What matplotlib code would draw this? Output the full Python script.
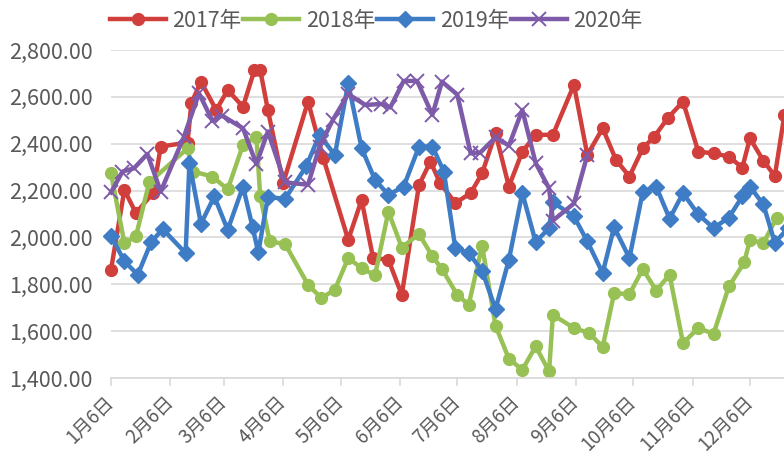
import matplotlib
matplotlib.use('Agg')
import matplotlib.pyplot as plt
from matplotlib.ticker import FuncFormatter

plt.rcParams['font.family'] = ['Noto Sans CJK SC', 'DejaVu Sans']

# day of year (0 = Jan 1) for each observation, and prices
days_2017 = [5, 12, 18, 27, 31, 45, 47, 52, 60, 66, 74, 80, 83, 87, 95, 108, 116, 129, 136, 142,
             150, 157, 166, 172, 177, 185, 193, 199, 206, 213, 220, 227, 236, 247, 254, 262, 269, 276,
             283, 289, 296, 304, 312, 320, 328, 335, 339, 346, 352, 357]
vals_2017 = [1862, 2203, 2104, 2190, 2388, 2405, 2573, 2665, 2544, 2629, 2558, 2715, 2715, 2544, 2232,
             2580, 2338, 1990, 2160, 1912, 1905, 1755, 2224, 2324, 2232, 2147, 2189, 2274, 2445, 2217,
             2366, 2438, 2438, 2651, 2352, 2466, 2331, 2260, 2381, 2430, 2509, 2580, 2366, 2359, 2345,
             2298, 2423, 2328, 2262, 2523]

days_2018 = [5, 12, 18, 25, 45, 48, 58, 66, 74, 81, 83, 88, 96, 108, 115, 122, 129, 136, 143, 150,
             157, 166, 173, 178, 186, 192, 199, 206, 213, 220, 227, 234, 236, 247, 255, 262, 268, 276,
             283, 290, 297, 304, 312, 320, 328, 336, 339, 346, 353]
vals_2018 = [2274, 1976, 2004, 2235, 2380, 2281, 2260, 2205, 2395, 2430, 2175, 1983, 1972, 1798, 1741,
             1777, 1912, 1869, 1838, 2110, 1957, 2015, 1919, 1865, 1755, 1713, 1965, 1623, 1482, 1435,
             1535, 1428, 1670, 1613, 1592, 1532, 1762, 1758, 1865, 1773, 1841, 1549, 1613, 1589, 1791,
             1893, 1990, 1975, 2085]

days_2019 = [5, 12, 19, 26, 32, 44, 46, 52, 59, 66, 74, 79, 82, 87, 96, 107, 114, 122, 129, 136,
             143, 150, 158, 166, 173, 179, 185, 192, 199, 206, 213, 220, 227, 234, 236, 247, 254, 262,
             268, 276, 283, 290, 297, 304, 312, 320, 328, 335, 339, 346, 352, 359]
vals_2019 = [2008, 1898, 1841, 1980, 2036, 1933, 2317, 2058, 2175, 2032, 2217, 2044, 1936, 2172, 2165,
             2303, 2438, 2352, 2658, 2381, 2246, 2182, 2217, 2388, 2388, 2281, 1954, 1933, 1858, 1694,
             1905, 2190, 1980, 2040, 2150, 2090, 1983, 1848, 2044, 1912, 2196, 2217, 2080, 2189, 2098,
             2040, 2085, 2175, 2217, 2141, 1978, 2040]

days_2020 = [5, 11, 17, 24, 31, 43, 51, 58, 63, 74, 81, 87, 96, 108, 114, 121, 129, 138, 146, 151,
             158, 165, 173, 178, 186, 193, 198, 206, 213, 220, 227, 234, 236, 247, 254]
vals_2020 = [2192, 2281, 2295, 2356, 2196, 2427, 2615, 2498, 2520, 2466, 2313, 2452, 2235, 2225, 2388,
             2502, 2612, 2565, 2570, 2555, 2668, 2668, 2523, 2665, 2610, 2359, 2362, 2427, 2392, 2544,
             2317, 2210, 2072, 2145, 2352]

series_labels = ['2017年', '2018年', '2019年', '2020年']
tick_days = [5, 36, 64, 95, 125, 156, 186, 217, 248, 278, 309, 339]
tick_labels = ['1月6日', '2月6日', '3月6日', '4月6日', '5月6日', '6月6日',
               '7月6日', '8月6日', '9月6日', '10月6日', '11月6日', '12月6日']
y_ticks = [1400, 1600, 1800, 2000, 2200, 2400, 2600, 2800]

colors = ['#D03F3C', '#98C155', '#3E7DC5', '#7E5BA9']
markers = ['o', 'o', 'D', 'x']
msizes = [8.5, 8.5, 8.5, 10.5]

fig = plt.figure(figsize=(7.84, 4.59), dpi=100)
ax = fig.add_axes([111 / 784, 81 / 459, 673 / 784, 328 / 459])

data = [(days_2017, vals_2017), (days_2018, vals_2018), (days_2019, vals_2019), (days_2020, vals_2020)]
for (d, v), lab, c, m, ms in zip(data, series_labels, colors, markers, msizes):
    mew = 1.4 if m == 'x' else 1
    ax.plot(d, v, color=c, lw=3.2, marker=m, ms=ms, mfc=c, mec=c, mew=mew, label=lab,
            solid_joinstyle='round', clip_on=False)

ax.set_xlim(5, 356.8)
ax.set_ylim(1400, 2800)
ax.set_yticks(y_ticks)
ax.yaxis.set_major_formatter(FuncFormatter(lambda v, p: f'{v:,.2f}'))
ax.set_xticks(tick_days)
ax.set_xticklabels(tick_labels, rotation=45, ha='right', va='center', rotation_mode='anchor')

ax.grid(axis='y', color='#d9d9d9', lw=1.2)
ax.set_axisbelow(True)
for s in ['top', 'right', 'left']:
    ax.spines[s].set_visible(False)
ax.spines['bottom'].set_color('#d9d9d9')
ax.spines['bottom'].set_linewidth(1.2)
ax.tick_params(axis='y', length=0, pad=13, labelsize=15.5, labelcolor='#595959')
ax.tick_params(axis='x', length=6, width=1.2, color='#d9d9d9', pad=9, labelsize=13.5, labelcolor='#595959')

fig.legend(loc='center left', bbox_to_anchor=(99 / 784, 1 - 21 / 459), ncol=4, frameon=False,
           fontsize=15.5, handlelength=2.6, handletextpad=0.3, columnspacing=0.1, borderpad=0,
           labelcolor='#595959')

fig.savefig('out.png', dpi=100)
